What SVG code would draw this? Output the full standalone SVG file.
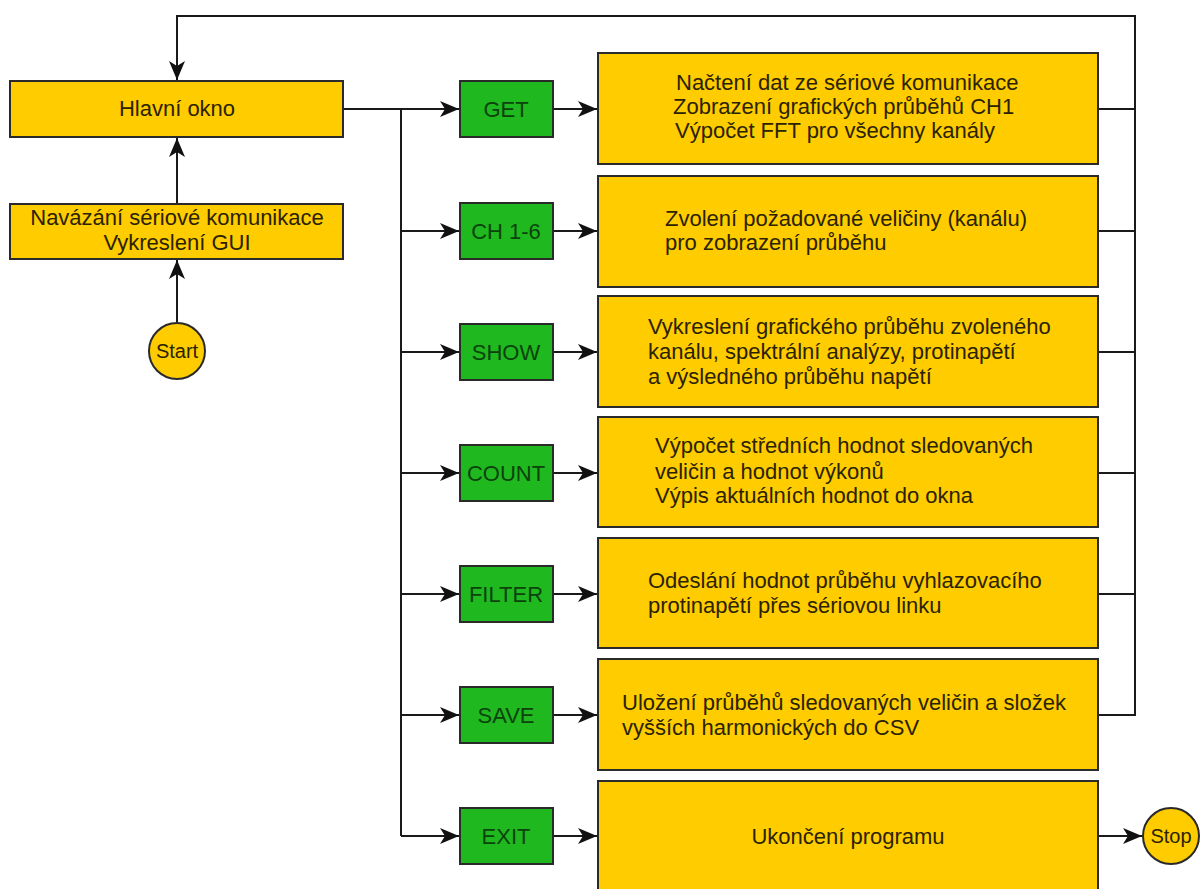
<svg xmlns="http://www.w3.org/2000/svg" width="1200" height="889" viewBox="0 0 1200 889">
<defs>
<style>
.o{fill:#FFCC00;stroke:#2a2a2a;stroke-width:2}
.g{fill:#1FB81F;stroke:#2a2a2a;stroke-width:2}
.t{font-family:"Liberation Sans",Arial,sans-serif;font-size:22px;fill:#2b2300}
.gt{font-family:"Liberation Sans",Arial,sans-serif;font-size:22px;fill:#0c430c;text-anchor:middle}
.c{text-anchor:middle}
.l{fill:none;stroke:#1a1a1a;stroke-width:2}
</style>
<marker id="a" markerWidth="20" markerHeight="16" refX="19" refY="8" orient="auto" markerUnits="userSpaceOnUse">
<path d="M0,0 L19,8 L0,16 L5,8 Z" fill="#111"/>
</marker>
</defs>
<rect width="1200" height="889" fill="#fff"/>
<g id="connectors">
<path class="l" d="M177,323 V260" marker-end="url(#a)"/>
<path class="l" d="M177,204 V138" marker-end="url(#a)"/>
<path class="l" d="M343,109 H459" marker-end="url(#a)"/>
<path class="l" d="M401,109 V836"/>
<path class="l" d="M401,231 H459" marker-end="url(#a)"/>
<path class="l" d="M401,352 H459" marker-end="url(#a)"/>
<path class="l" d="M401,473 H459" marker-end="url(#a)"/>
<path class="l" d="M401,594 H459" marker-end="url(#a)"/>
<path class="l" d="M401,715 H459" marker-end="url(#a)"/>
<path class="l" d="M401,836 H459" marker-end="url(#a)"/>
<path class="l" d="M553,109 H597" marker-end="url(#a)"/>
<path class="l" d="M553,231 H597" marker-end="url(#a)"/>
<path class="l" d="M553,352 H597" marker-end="url(#a)"/>
<path class="l" d="M553,473 H597" marker-end="url(#a)"/>
<path class="l" d="M553,594 H597" marker-end="url(#a)"/>
<path class="l" d="M553,715 H597" marker-end="url(#a)"/>
<path class="l" d="M553,836 H597" marker-end="url(#a)"/>
<path class="l" d="M1098,109 H1135"/>
<path class="l" d="M1098,231 H1135"/>
<path class="l" d="M1098,352 H1135"/>
<path class="l" d="M1098,473 H1135"/>
<path class="l" d="M1098,594 H1135"/>
<path class="l" d="M1098,715 H1135 V16 H177 V80" marker-end="url(#a)"/>
<path class="l" d="M1098,836 H1142" marker-end="url(#a)"/>
</g>
<g id="hlavni"><rect class="o" x="10" y="81" width="333" height="56"/><text class="t c" x="177" y="116">Hlavní okno</text></g>
<g id="navazani"><rect class="o" x="10" y="204" width="333" height="55"/><text class="t c" x="177" y="225">Navázání sériové komunikace</text><text class="t c" x="177" y="250">Vykreslení GUI</text></g>
<g id="start"><circle class="o" cx="177" cy="351" r="28"/><text class="t c" x="177" y="358" style="font-size:20px">Start</text></g>
<g id="get"><rect class="g" x="460" y="81" width="93" height="56"/><text class="gt" x="506" y="117">GET</text></g>
<g id="ch"><rect class="g" x="460" y="203" width="93" height="56"/><text class="gt" x="506" y="239">CH 1-6</text></g>
<g id="show"><rect class="g" x="460" y="324" width="93" height="56"/><text class="gt" x="506" y="360">SHOW</text></g>
<g id="count"><rect class="g" x="460" y="445" width="93" height="56"/><text class="gt" x="506" y="481">COUNT</text></g>
<g id="filter"><rect class="g" x="460" y="566" width="93" height="56"/><text class="gt" x="506" y="602">FILTER</text></g>
<g id="save"><rect class="g" x="460" y="687" width="93" height="56"/><text class="gt" x="506" y="723">SAVE</text></g>
<g id="exit"><rect class="g" x="460" y="808" width="93" height="56"/><text class="gt" x="506" y="844">EXIT</text></g>
<g id="p1"><rect class="o" x="598" y="53" width="500" height="111"/>
<text class="t" x="676" y="90">Načtení dat ze sériové komunikace</text>
<text class="t" x="673" y="114">Zobrazení grafických průběhů CH1</text>
<text class="t" x="675" y="138">Výpočet FFT pro všechny kanály</text></g>
<g id="p2"><rect class="o" x="598" y="176" width="500" height="111"/>
<text class="t" x="665" y="226">Zvolení požadované veličiny (kanálu)</text>
<text class="t" x="665" y="250">pro zobrazení průběhu</text></g>
<g id="p3"><rect class="o" x="598" y="296" width="500" height="111"/>
<text class="t" x="648" y="334">Vykreslení grafického průběhu zvoleného</text>
<text class="t" x="648" y="359">kanálu, spektrální analýzy, protinapětí</text>
<text class="t" x="648" y="384">a výsledného průběhu napětí</text></g>
<g id="p4"><rect class="o" x="598" y="417" width="500" height="110"/>
<text class="t" x="655" y="453">Výpočet středních hodnot sledovaných</text>
<text class="t" x="655" y="479">veličin a hodnot výkonů</text>
<text class="t" x="655" y="503">Výpis aktuálních hodnot do okna</text></g>
<g id="p5"><rect class="o" x="598" y="538" width="500" height="110"/>
<text class="t" x="648" y="588">Odeslání hodnot průběhu vyhlazovacího</text>
<text class="t" x="648" y="613">protinapětí přes sériovou linku</text></g>
<g id="p6"><rect class="o" x="598" y="659" width="500" height="111"/>
<text class="t" x="622" y="710">Uložení průběhů sledovaných veličin a složek</text>
<text class="t" x="622" y="735">vyšších harmonických do CSV</text></g>
<g id="p7"><rect class="o" x="598" y="781" width="500" height="112"/>
<text class="t c" x="848" y="844">Ukončení programu</text></g>
<g id="stop"><circle class="o" cx="1171" cy="836" r="28"/><text class="t c" x="1171" y="843" style="font-size:20px">Stop</text></g>
</svg>
